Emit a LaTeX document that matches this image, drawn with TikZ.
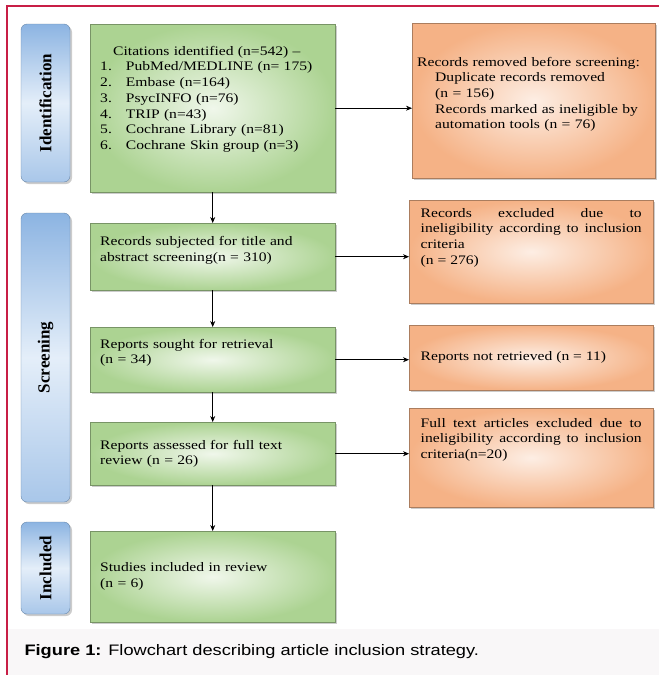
\documentclass[tikz,border=0pt]{standalone}
\usepackage{fontspec}
\setmainfont{Liberation Serif}[FakeStretch=1.2]
\newfontfamily\sidefont{Liberation Serif}
\newfontfamily\capfont{Liberation Sans}[FakeStretch=1.2]
\usetikzlibrary{shadows, arrows.meta}
\hyphenpenalty=10000
\exhyphenpenalty=10000
\newcommand{\bottompad}[1]{\par\rule{0pt}{#1}}

\definecolor{framered}{RGB}{200,30,70}
\definecolor{boxgreen}{RGB}{172,211,146}
\definecolor{boxgreenlight}{RGB}{240,247,235}
\definecolor{boxorange}{RGB}{245,178,134}
\definecolor{boxorangelight}{RGB}{253,238,228}
\definecolor{sideblue}{RGB}{140,180,226}
\definecolor{sidebluelight}{RGB}{228,238,249}
\definecolor{capgray}{RGB}{249,247,248}

\tikzset{
  greenbox/.style={anchor=north west, draw=boxgreen!70!black, inner color=boxgreenlight, outer color=boxgreen,
    drop shadow={shadow xshift=2pt, shadow yshift=-2pt, opacity=0.4},
    text width=225pt, inner xsep=10pt, inner ysep=0pt, align=left, font=\fontsize{13}{15.7}\selectfont},
  orangebox/.style={anchor=north west, draw=boxorange!70!black, inner color=boxorangelight, outer color=boxorange,
    drop shadow={shadow xshift=2pt, shadow yshift=-2pt, opacity=0.4},
    text width=221pt, inner xsep=11.5pt, inner ysep=0pt, align=justify, font=\fontsize{13}{15.7}\selectfont},
  sidebox/.style={rotate=90, rounded corners=6pt, draw=sideblue!75!black, top color=sideblue, bottom color=sideblue!75,
    middle color=sidebluelight, drop shadow={shadow xshift=2pt, shadow yshift=-2pt, opacity=0.4},
    inner sep=0pt, font=\sidefont\fontsize{17}{19}\selectfont\bfseries},
  flow/.style={-{Stealth[length=6pt, width=5pt]}, semithick, black}
}

\begin{document}
\begin{tikzpicture}[x=1pt, y=-1pt]
  \useasboundingbox (0,0) rectangle (659,675);

  % Cornice e didascalia
  \fill[capgray] (7,629) rectangle (659,675);
  \draw[framered, line width=1.3pt] (7,675) -- (7,6) -- (659,6);
  \node[anchor=west, font=\capfont\fontsize{15.2}{18}\selectfont] (caption) at (21,652)
    {\textbf{Figure 1:} Flowchart describing article inclusion strategy.};

  % Fasi
  \node[sidebox, minimum width=158pt, minimum height=49pt] (ident) at (45.5,103) {Identification};
  \node[sidebox, minimum width=289pt, minimum height=49pt] (screen) at (45.5,357.5) {Screening};
  \node[sidebox, minimum width=92pt, minimum height=49pt] (incl) at (45.5,568) {Included};

  % Colonna principale
  \node[greenbox, minimum height=168pt] (cites) at (90,24) {%
    \begin{tabular}{@{}l@{\hspace{14pt}}l@{}}
      \multicolumn{2}{@{\hspace{13pt}}l}{Citations identified (n=542) --}\\
      1. & PubMed/MEDLINE (n= 175)\\
      2. & Embase (n=164)\\
      3. & PsycINFO (n=76)\\
      4. & TRIP (n=43)\\
      5. & Cochrane Library (n=81)\\
      6. & Cochrane Skin group (n=3)
    \end{tabular}\bottompad{17pt}};
  \node[greenbox, minimum height=67pt] (title) at (90,223)
    {Records subjected for title and\\ abstract screening(n = 310)\bottompad{0pt}};
  \node[greenbox, minimum height=65pt] (sought) at (90,327)
    {Reports sought for retrieval\\ (n = 34)\bottompad{13pt}};
  \node[greenbox, minimum height=63pt] (assessed) at (90,422)
    {Reports assessed for full text\\ review (n = 26)};
  \node[greenbox, minimum height=91pt] (studies) at (90,531)
    {Studies included in review\\ (n = 6)};

  % Colonna degli esclusi
  \node[orangebox, minimum height=155pt, text width=233pt, inner xsep=5pt, align=left] (removed) at (412,23)
    {Records removed before screening:\\
     \hspace*{18pt}Duplicate records removed\\
     \hspace*{18pt}(n = 156)\\
     \hspace*{18pt}Records marked as ineligible by\\
     \hspace*{18pt}automation tools (n = 76)\bottompad{0pt}};
  \node[orangebox, minimum height=103pt] (excluded) at (409,200)
    {Records excluded due to\linebreak ineligibility according to inclusion criteria\\
     (n = 276)\bottompad{27pt}};
  \node[orangebox, minimum height=65pt] (notret) at (409,325)
    {Reports not retrieved (n = 11)};
  \node[orangebox, minimum height=99pt] (fulltext) at (409,408)
    {Full text articles excluded due to ineligibility according to inclusion criteria(n=20)\bottompad{35pt}};

  % Frecce
  \draw[flow] (cites) -- (title);
  \draw[flow] (title) -- (sought);
  \draw[flow] (sought) -- (assessed);
  \draw[flow] (assessed) -- (studies);
  \draw[flow] (cites.east) -- (cites.east -| removed.west);
  \draw[flow] (title.east) -- (title.east -| excluded.west);
  \draw[flow] (sought.east) -- (sought.east -| notret.west);
  \draw[flow] (assessed.east) -- (assessed.east -| fulltext.west);
\end{tikzpicture}
\end{document}
